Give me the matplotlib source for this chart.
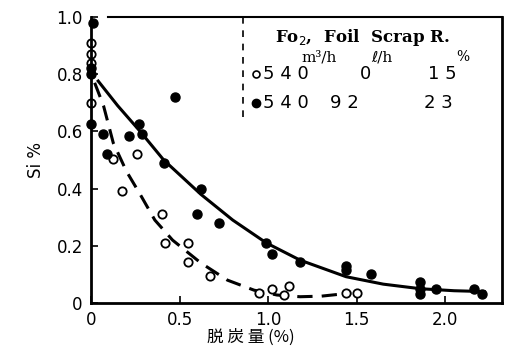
import matplotlib
matplotlib.use("Agg")
import matplotlib.pyplot as plt

plt.rcParams['font.family'] = ['DejaVu Sans', 'Noto Sans CJK JP']

# Messpunkte, offen (Foil 0 l/h)
open_x = [0.0, 0.0, 0.0, 0.0, 0.125, 0.26, 0.173, 0.40, 0.42, 0.55, 0.55, 0.67,
          0.95, 1.02, 1.09, 1.12, 1.44, 1.50]
open_y = [0.91, 0.87, 0.84, 0.70, 0.505, 0.52, 0.39, 0.31, 0.21, 0.21, 0.145, 0.096,
          0.035, 0.05, 0.028, 0.06, 0.035, 0.035]

# Messpunkte, gefuellt (Foil 92 l/h)
fill_x = [0.01, 0.0, 0.0, 0.0, 0.068, 0.089, 0.475, 0.27, 0.286, 0.215, 0.41, 0.62,
          0.60, 0.72, 0.99, 1.02, 1.18, 1.44, 1.44, 1.58, 1.86, 1.86, 1.86, 1.95,
          2.16, 2.21]
fill_y = [0.98, 0.82, 0.80, 0.625, 0.59, 0.52, 0.72, 0.625, 0.59, 0.585, 0.49, 0.40,
          0.31, 0.28, 0.21, 0.17, 0.145, 0.13, 0.115, 0.10, 0.075, 0.05, 0.03, 0.05,
          0.05, 0.03]

# Kurven
solid_x = [0.04, 0.15, 0.277, 0.41, 0.62, 0.8, 0.99, 1.18, 1.44, 1.65, 1.86, 2.05, 2.22]
solid_y = [0.776, 0.69, 0.60, 0.50, 0.38, 0.29, 0.21, 0.15, 0.092, 0.066, 0.05, 0.043, 0.04]
dash_x = [0.02, 0.07, 0.125, 0.2, 0.277, 0.36, 0.46, 0.62, 0.77, 0.92, 1.05, 1.18, 1.30, 1.47]
dash_y = [0.77, 0.69, 0.56, 0.46, 0.38, 0.29, 0.22, 0.14, 0.08, 0.045, 0.028, 0.022, 0.024, 0.035]

xticks = [0, 0.5, 1.0, 1.5, 2.0]
xtick_labels = ['0', '0.5', '1.0', '1.5', '2.0']
yticks = [0, 0.2, 0.4, 0.6, 0.8, 1.0]
ytick_labels = ['0', '0.2', '0.4', '0.6', '0.8', '1.0']

fig = plt.figure(figsize=(5.09, 3.54), dpi=100)
ax = fig.add_axes([0.179, 0.144, 0.807, 0.808])

ax.plot(solid_x, solid_y, color='black', lw=2.2)
ax.plot(dash_x, dash_y, color='black', lw=2.2, dashes=(5, 3))
ax.plot(open_x, open_y, 'o', mfc='white', mec='black', mew=1.3, ms=6, clip_on=False)
ax.plot(fill_x, fill_y, 'o', color='black', ms=6.5, clip_on=False)

ax.set_xlim(0, 2.32)
ax.set_ylim(0, 1.0)
ax.set_xticks(xticks)
ax.set_xticklabels(xtick_labels)
ax.set_yticks(yticks)
ax.set_yticklabels(ytick_labels)
ax.tick_params(direction='in', length=5, width=1.2, labelsize=12, pad=6)

for s in ['left', 'bottom', 'right']:
    ax.spines[s].set_linewidth(2)
ax.spines['top'].set_visible(False)
# obere Linie beginnt etwas rechts der Achse
ax.plot([0.04, 1.0], [1.0, 1.0], transform=ax.transAxes, color='black', lw=1.5, clip_on=False)

# Legendenbereich (gestrichelte Trennlinie)
ax.plot([0.86, 0.86], [1.0, 0.64], color='black', lw=1.2, ls=(0, (4, 4)))

serif = ['DejaVu Serif', 'DejaVu Sans']
ax.text(1.04, 0.93, 'Fo$_2$,  Foil  Scrap R.', fontsize=12, fontweight='bold', va='center',
        family=serif)
ax.text(1.19, 0.86, 'm³/h', fontsize=11, va='center', family=serif)
ax.text(1.58, 0.86, 'ℓ/h', fontsize=11, va='center', family=serif)
ax.text(2.06, 0.86, '%', fontsize=10, va='center', family=serif)
ax.plot([0.93], [0.80], 'o', mfc='white', mec='black', mew=1.2, ms=5)
ax.plot([0.93], [0.70], 'o', color='black', ms=6)
ax.text(0.97, 0.80, '5 4 0', fontsize=13, va='center')
ax.text(1.52, 0.80, '0', fontsize=13, va='center')
ax.text(1.90, 0.80, '1 5', fontsize=13, va='center')
ax.text(0.97, 0.70, '5 4 0', fontsize=13, va='center')
ax.text(1.35, 0.70, '9 2', fontsize=13, va='center')
ax.text(1.88, 0.70, '2 3', fontsize=13, va='center')

ax.set_ylabel('Si %', fontsize=12, labelpad=8)
ax.set_xlabel('脱 炭 量 (%)', fontsize=12, labelpad=1,
              family=['Noto Sans CJK JP', 'DejaVu Sans'])
ax.xaxis.set_label_coords(0.39, -0.09)

fig.savefig('out.png', dpi=100)
